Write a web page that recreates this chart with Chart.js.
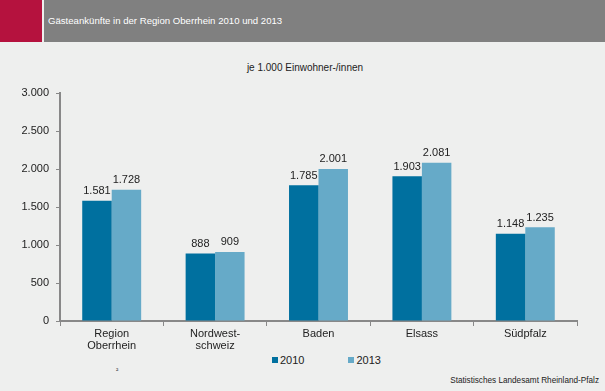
<!DOCTYPE html>
<html><head><meta charset="utf-8">
<script src="https://cdn.jsdelivr.net/npm/chart.js@4/dist/chart.umd.min.js"></script>
<style>
html,body{margin:0;padding:0;background:#eeefee;}
#wrap{position:relative;width:605px;height:391px;overflow:hidden;font-family:"Liberation Sans",Arial,sans-serif;}
#red{position:absolute;left:0;top:0;width:42px;height:42px;background:#b5123e;}
#bar{position:absolute;left:44px;top:0;width:561px;height:42px;background:#808080;}
#title{position:absolute;left:48px;top:15px;color:#fff;font-size:9.6px;}
#sub{position:absolute;left:0;width:610px;top:62px;text-align:center;font-size:10px;color:#222;}
#src{position:absolute;right:6px;top:376px;font-size:8.2px;color:#222;}
#mark{position:absolute;left:116px;top:366px;font-size:7px;color:#222;}
#leg{position:absolute;top:354px;left:272px;font-size:11px;color:#222;}
#leg span.b{display:inline-block;width:6px;height:6px;margin-right:2px;vertical-align:1px;}
canvas{position:absolute;left:0;top:0;}
</style></head>
<body><div id="wrap">
<div id="red"></div><div id="bar"></div>
<div id="title">Gästeankünfte in der Region Oberrhein 2010 und 2013</div>
<div id="sub">je 1.000 Einwohner-/innen</div>
<div id="leg"><span class="b" style="background:#00709f"></span>2010<span style="display:inline-block;width:44px"></span><span class="b" style="background:#66aac8"></span>2013</div>
<div id="mark">²</div>
<div id="src">Statistisches Landesamt Rheinland-Pfalz</div>
<canvas id="c" width="605" height="391"></canvas>
</div>
<script>
const categories = [["Region","Oberrhein"],["Nordwest-","schweiz"],"Baden","Elsass","Südpfalz"];
const values2010 = [1581, 888, 1785, 1903, 1148];
const values2013 = [1728, 909, 2001, 2081, 1235];
const seriesLabels = ["2010","2013"];
const yTicks = [0,500,1000,1500,2000,2500,3000];

const fmt = v => v.toLocaleString('de-DE');

const labelPlugin = {
  id:'vals',
  afterDatasetsDraw(chart){
    const ctx = chart.ctx;
    ctx.save();
    ctx.font = '11px "Liberation Sans", Arial, sans-serif';
    ctx.fillStyle = '#222';
    ctx.textAlign = 'center';
    ctx.textBaseline = 'bottom';
    chart.data.datasets.forEach((ds,i)=>{
      chart.getDatasetMeta(i).data.forEach((el,j)=>{
        ctx.fillText(fmt(ds.data[j]), el.x, el.y - 4);
      });
    });
    ctx.restore();
  }
};

new Chart(document.getElementById('c'), {
  type:'bar',
  data:{
    labels: categories,
    datasets:[
      {label:seriesLabels[0], data:values2010, backgroundColor:'#00709f'},
      {label:seriesLabels[1], data:values2013, backgroundColor:'#66aac8'}
    ]
  },
  options:{
    responsive:false,
    animation:false,
    devicePixelRatio:1,
    layout:{padding:{top:93,right:28,left:0,bottom:0}},
    plugins:{legend:{display:false},tooltip:{enabled:false},title:{display:false}},
    datasets:{bar:{categoryPercentage:0.57,barPercentage:1}},
    scales:{
      x:{
        grid:{offset:true,drawOnChartArea:false,drawTicks:true,tickLength:5,color:'#888',lineWidth:1},
        border:{display:true,color:'#888',width:2},
        ticks:{color:'#222',font:{size:11,family:'"Liberation Sans", Arial, sans-serif',lineHeight:1.1},padding:2,maxRotation:0,autoSkip:false},
        afterFit(s){ s.height = 70; }
      },
      y:{
        min:0,max:3000,
        afterBuildTicks(s){ s.ticks = yTicks.map(v=>({value:v})); },
        grid:{drawOnChartArea:false,drawTicks:true,tickLength:4,color:'#888'},
        border:{display:true,color:'#888',width:2},
        ticks:{color:'#222',font:{size:11,family:'"Liberation Sans", Arial, sans-serif'},padding:7,callback:v=>fmt(v)},
        afterFit(s){ s.width = 60; }
      }
    }
  },
  plugins:[labelPlugin]
});
</script>
</body></html>
